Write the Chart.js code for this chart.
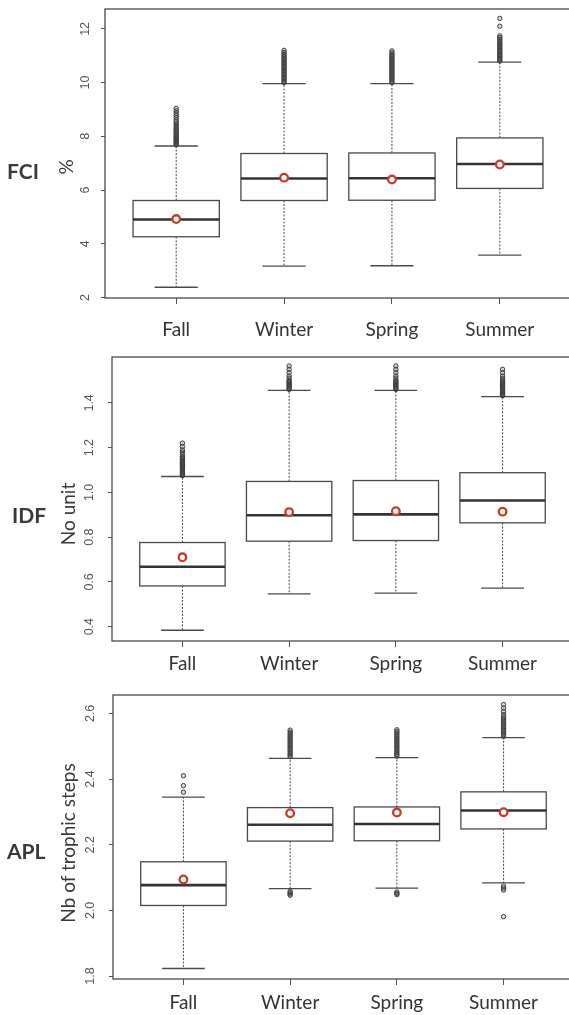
<!DOCTYPE html>
<html>
<head>
<meta charset="utf-8">
<script src="https://cdn.jsdelivr.net/npm/chart.js@4.4.1/dist/chart.umd.min.js"></script>
<style>
  html, body { margin: 0; padding: 0; background: #fff; width: 569px; height: 1015px; overflow: hidden; }
  #page { position: relative; width: 569px; height: 1015px; overflow: hidden; }
  .panel { position: absolute; left: 0; }
  .name { position: absolute; font-family: Lato, "Open Sans", sans-serif; font-weight: bold; font-size: 21px; color: #3a3a3a; transform: translateY(-50%); white-space: nowrap; }
  .ytitle { position: absolute; font-family: Lato, "Open Sans", sans-serif; font-size: 19px; color: #3a3a3a; white-space: nowrap; transform: translate(-50%, -50%) rotate(-90deg); }
</style>
</head>
<body>
<div id="page">
<canvas id="fci" class="panel" width="571" height="340" style="top:0px"></canvas>
<canvas id="idf" class="panel" width="573" height="340" style="top:340px"></canvas>
<canvas id="apl" class="panel" width="574" height="335" style="top:680px"></canvas>

<div class="name" style="left:7px; top:170px">FCI</div>
<div class="name" style="left:12px; top:514px">IDF</div>
<div class="name" style="left:7px; top:850px">APL</div>

<div class="ytitle" style="left:65px; top:167px">%</div>
<div class="ytitle" style="left:67px; top:514px">No unit</div>
<div class="ytitle" style="left:67px; top:843px">Nb of trophic steps</div>
</div>

<script>
// Seasons on the x axis
const seasons = ['Fall', 'Winter', 'Spring', 'Summer'];

// FCI (%)
const fciLowerWhisker = [2.38, 3.17, 3.18, 3.58];
const fciQ1 = [4.26, 5.61, 5.62, 6.06];
const fciMedian = [4.90, 6.43, 6.44, 6.97];
const fciQ3 = [5.61, 7.36, 7.38, 7.94];
const fciUpperWhisker = [7.64, 9.96, 9.96, 10.76];
const fciMean = [4.92, 6.46, 6.39, 6.95];
const fciOutliers = [
  [7.68, 7.72, 7.76, 7.8, 7.84, 7.88, 7.92, 7.96, 8.0, 8.05, 8.1, 8.15, 8.2, 8.25, 8.3, 8.36, 8.42, 8.48, 8.55, 8.62, 8.7, 8.78, 8.86, 8.95, 9.04],
  [10.0, 10.05, 10.1, 10.15, 10.2, 10.25, 10.3, 10.35, 10.4, 10.45, 10.5, 10.55, 10.6, 10.65, 10.7, 10.75, 10.8, 10.85, 10.9, 10.95, 11.0, 11.06, 11.12, 11.2],
  [10.0, 10.05, 10.1, 10.15, 10.2, 10.25, 10.3, 10.35, 10.4, 10.45, 10.5, 10.55, 10.6, 10.65, 10.7, 10.75, 10.8, 10.85, 10.9, 10.95, 11.0, 11.05, 11.11, 11.18],
  [10.8, 10.85, 10.9, 10.95, 11.0, 11.05, 11.1, 11.15, 11.2, 11.25, 11.3, 11.35, 11.4, 11.45, 11.5, 11.56, 11.62, 11.68, 11.74, 12.1, 12.39]
];
const fciTicks = [2, 4, 6, 8, 10, 12];

// IDF (no unit)
const idfLowerWhisker = [0.384, 0.547, 0.550, 0.572];
const idfQ1 = [0.582, 0.782, 0.785, 0.864];
const idfMedian = [0.668, 0.898, 0.902, 0.964];
const idfQ3 = [0.776, 1.049, 1.053, 1.088];
const idfUpperWhisker = [1.071, 1.456, 1.456, 1.428];
const idfMean = [0.710, 0.912, 0.916, 0.914];
const idfOutliers = [
  [1.075, 1.08, 1.085, 1.09, 1.095, 1.10, 1.105, 1.11, 1.115, 1.12, 1.125, 1.13, 1.135, 1.14, 1.145, 1.15, 1.155, 1.16, 1.17, 1.18, 1.19, 1.205, 1.22],
  [1.46, 1.465, 1.47, 1.475, 1.48, 1.485, 1.49, 1.495, 1.50, 1.51, 1.52, 1.535, 1.55, 1.565],
  [1.46, 1.465, 1.47, 1.475, 1.48, 1.485, 1.49, 1.495, 1.50, 1.51, 1.52, 1.535, 1.55, 1.565],
  [1.432, 1.437, 1.442, 1.447, 1.452, 1.457, 1.462, 1.467, 1.472, 1.477, 1.482, 1.487, 1.492, 1.497, 1.503, 1.51, 1.52, 1.535, 1.55]
];
const idfTicks = [0.4, 0.6, 0.8, 1.0, 1.2, 1.4];

// APL (number of trophic steps)
const aplLowerWhisker = [1.823, 2.066, 2.068, 2.084];
const aplQ1 = [2.015, 2.211, 2.212, 2.248];
const aplMedian = [2.077, 2.261, 2.263, 2.304];
const aplQ3 = [2.148, 2.313, 2.315, 2.361];
const aplUpperWhisker = [2.345, 2.463, 2.465, 2.526];
const aplMean = [2.094, 2.296, 2.298, 2.299];
const aplOutliers = [
  [2.36, 2.38, 2.41],
  [2.468, 2.473, 2.478, 2.483, 2.488, 2.493, 2.498, 2.503, 2.508, 2.513, 2.518, 2.523, 2.528, 2.533, 2.538, 2.543, 2.549, 2.046, 2.05, 2.054, 2.058],
  [2.47, 2.475, 2.48, 2.485, 2.49, 2.495, 2.5, 2.505, 2.51, 2.515, 2.52, 2.525, 2.53, 2.535, 2.54, 2.545, 2.55, 2.048, 2.052, 2.056],
  [2.53, 2.535, 2.54, 2.545, 2.55, 2.555, 2.56, 2.565, 2.57, 2.575, 2.58, 2.585, 2.59, 2.596, 2.606, 2.616, 2.627, 2.062, 2.068, 2.074, 1.981]
];
const aplTicks = [1.8, 2.0, 2.2, 2.4, 2.6];

const LINE = '#4a4a4a';

// Draws boxes, whiskers, caps and medians from the panel's statistics
const boxPlotPlugin = {
  id: 'boxPlot',
  beforeDatasetsDraw(chart, args, opts) {
    const { ctx, scales: { x, y } } = chart;
    const s = opts.stats;
    const seg = (x1, y1, x2, y2) => { ctx.beginPath(); ctx.moveTo(x1, y1); ctx.lineTo(x2, y2); ctx.stroke(); };
    ctx.save();
    ctx.strokeStyle = LINE;
    for (let i = 0; i < s.q1.length; i++) {
      const cx = x.getPixelForValue(i + 1);
      const half = x.getPixelForValue(i + 1.4) - cx;
      const cap = half / 2;
      const pLW = y.getPixelForValue(s.lw[i]);
      const pQ1 = y.getPixelForValue(s.q1[i]);
      const pMed = y.getPixelForValue(s.med[i]);
      const pQ3 = y.getPixelForValue(s.q3[i]);
      const pUW = y.getPixelForValue(s.uw[i]);
      // dashed whiskers
      ctx.lineWidth = 1;
      ctx.setLineDash([2, 1.5]);
      seg(cx, pQ3, cx, pUW);
      seg(cx, pQ1, cx, pLW);
      ctx.setLineDash([]);
      // whisker caps
      ctx.lineWidth = 1.3;
      seg(cx - cap, pUW, cx + cap, pUW);
      seg(cx - cap, pLW, cx + cap, pLW);
      // box
      ctx.strokeRect(cx - half, pQ3, half * 2, pQ1 - pQ3);
      // median
      ctx.lineWidth = 2.6;
      ctx.strokeStyle = '#333';
      seg(cx - half, pMed, cx + half, pMed);
      ctx.strokeStyle = LINE;
    }
    // plot frame
    const a = chart.chartArea;
    ctx.lineWidth = 1.3;
    ctx.strokeRect(a.left, a.top, a.right - a.left, a.bottom - a.top);
    ctx.restore();
  }
};

function makePanel(id, p) {
  const outlierPoints = [];
  p.outliers.forEach((list, i) => list.forEach(v => outlierPoints.push({ x: i + 1, y: v })));
  const meanPoints = p.mean.map((v, i) => ({ x: i + 1, y: v }));

  return new Chart(document.getElementById(id), {
    type: 'scatter',
    data: {
      datasets: [
        {
          label: 'outliers',
          data: outlierPoints,
          pointStyle: 'circle',
          pointRadius: 2.2,
          borderWidth: 1,
          borderColor: '#3d3d3d',
          backgroundColor: 'rgba(90,90,90,0.25)'
        },
        {
          label: 'mean',
          data: meanPoints,
          pointStyle: 'circle',
          pointRadius: 3.8,
          borderWidth: 2.3,
          borderColor: '#c63b2b',
          backgroundColor: '#ffffff'
        }
      ]
    },
    options: {
      responsive: false,
      animation: false,
      events: [],
      layout: { autoPadding: false, padding: { top: p.top, left: 0, right: 0, bottom: 0 } },
      plugins: {
        legend: { display: false },
        tooltip: { enabled: false },
        boxPlot: { stats: { lw: p.lw, q1: p.q1, med: p.med, q3: p.q3, uw: p.uw } }
      },
      scales: {
        x: {
          type: 'linear',
          min: 0.34,
          max: 4.66,
          afterBuildTicks: s => { s.ticks = seasons.map((c, i) => ({ value: i + 1 })); },
          afterFit: s => { s.height = p.xHeight; s.paddingLeft = 0; s.paddingRight = 0; },
          border: { display: false },
          grid: { display: true, drawOnChartArea: false, drawTicks: true, tickLength: 6, color: '#555', lineWidth: 1 },
          ticks: {
            autoSkip: false,
            maxRotation: 0,
            padding: p.xPad,
            color: '#333',
            font: { family: 'Lato', size: 19 },
            callback: (v, i) => seasons[i]
          }
        },
        y: {
          type: 'linear',
          min: p.yMin,
          max: p.yMax,
          afterBuildTicks: s => { s.ticks = p.ticks.map(v => ({ value: v })); },
          afterFit: s => { s.width = p.left; s.paddingTop = 0; s.paddingBottom = 0; },
          border: { display: false },
          grid: { display: true, drawOnChartArea: false, drawTicks: true, tickLength: 4, color: '#555', lineWidth: 1 },
          ticks: {
            autoSkip: false,
            minRotation: 90,
            maxRotation: 90,
            crossAlign: 'center',
            padding: p.yPad,
            color: '#555',
            font: { family: 'Liberation Sans', size: 12.5 },
            callback: v => v.toFixed(p.decimals)
          }
        }
      }
    },
    plugins: [boxPlotPlugin]
  });
}

makePanel('fci', {
  lw: fciLowerWhisker, q1: fciQ1, med: fciMedian, q3: fciQ3, uw: fciUpperWhisker,
  mean: fciMean, outliers: fciOutliers, ticks: fciTicks, decimals: 0,
  yMin: 1.98, yMax: 12.74, top: 9, xHeight: 42, left: 105, xPad: 14, yPad: 8.5
});
makePanel('idf', {
  lw: idfLowerWhisker, q1: idfQ1, med: idfMedian, q3: idfQ3, uw: idfUpperWhisker,
  mean: idfMean, outliers: idfOutliers, ticks: idfTicks, decimals: 1,
  yMin: 0.336, yMax: 1.605, top: 17, xHeight: 39, left: 112, xPad: 5, yPad: 9.3
});
makePanel('apl', {
  lw: aplLowerWhisker, q1: aplQ1, med: aplMedian, q3: aplQ3, uw: aplUpperWhisker,
  mean: aplMean, outliers: aplOutliers, ticks: aplTicks, decimals: 1,
  yMin: 1.791, yMax: 2.656, top: 15, xHeight: 36, left: 113, xPad: 6, yPad: 10
});
</script>
</body>
</html>
